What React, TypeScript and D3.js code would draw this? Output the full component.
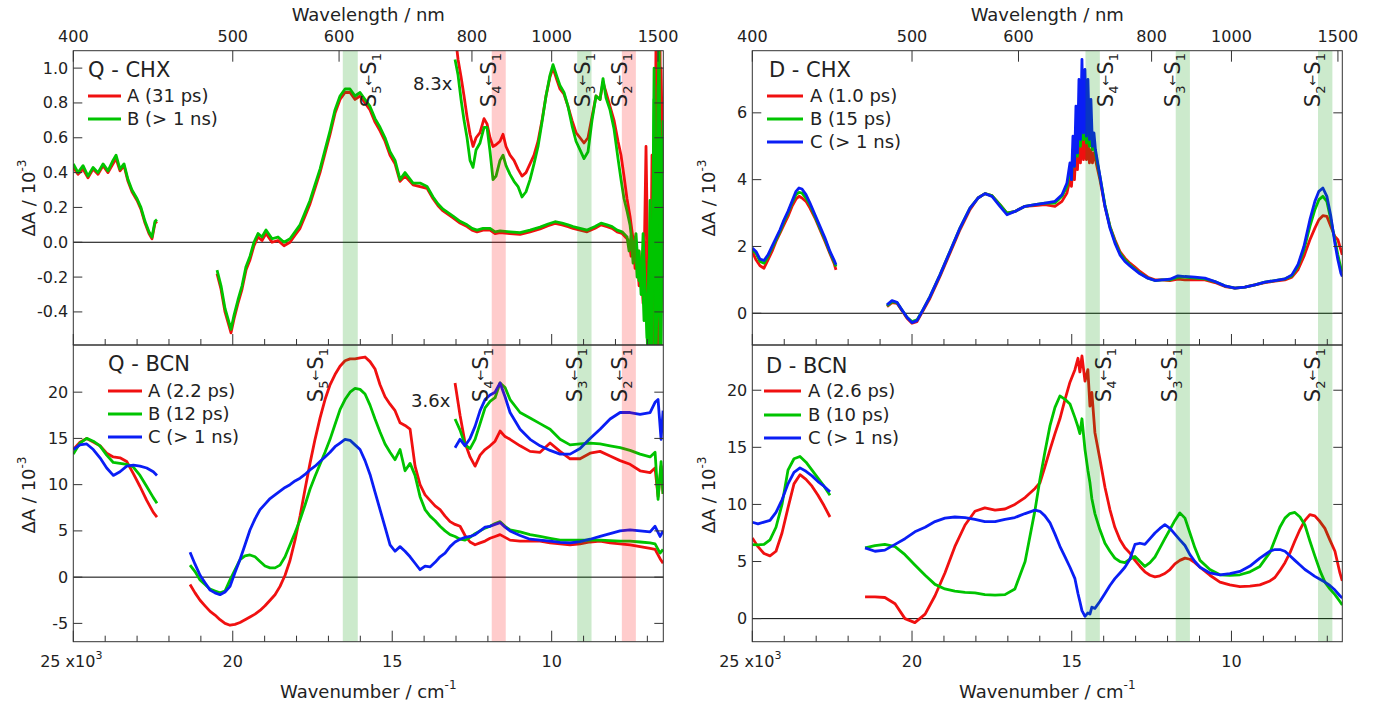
import React from "react";
import * as d3 from "d3";

const RED = "#f01010";
const GREEN = "#00c400";
const BLUE = "#0a1ef5";
const FONT = "'DejaVu Sans', Verdana, sans-serif";

// ---------- shared axis values ----------
const wavelengthTicksNm = [400, 500, 600, 800, 1000, 1500];
const wavenumberMajor = [25000, 20000, 15000, 10000];

// ---------- Q - CHX (ΔA / 10^-3) ----------
const qChxSeg1Wn = [25000, 24853, 24694, 24540, 24380, 24225, 24067, 23912, 23755, 23660, 23536, 23410, 23285, 23160, 23000, 22880, 22752, 22627, 22532, 22438, 22376];
const qChxSeg1A = [0.43, 0.39, 0.42, 0.37, 0.42, 0.39, 0.44, 0.40, 0.45, 0.48, 0.41, 0.44, 0.35, 0.29, 0.24, 0.19, 0.11, 0.05, 0.02, 0.11, 0.12];
const qChxSeg1B = [0.45, 0.40, 0.44, 0.38, 0.43, 0.40, 0.45, 0.41, 0.47, 0.50, 0.42, 0.45, 0.36, 0.30, 0.25, 0.20, 0.12, 0.06, 0.03, 0.12, 0.13];
const qChxSeg2Wn = [20493, 20368, 20243, 20117, 20055, 19961, 19835, 19710, 19585, 19459, 19334, 19208, 19083, 18957, 18769, 18581, 18393, 18205, 18048, 17891, 17734, 17578, 17421, 17264, 17107, 16950, 16794, 16637, 16480, 16323, 16166, 16009, 15852, 15696, 15539, 15382, 15225, 15068, 14911, 14755, 14598, 14347, 14127, 13908, 13719, 13563, 13406, 13249, 13092, 12873, 12653, 12497, 12340, 12152, 11932, 11775, 11618, 11305, 10991, 10678, 10364, 10113, 9894, 9674, 9486, 9329, 9110, 8890, 8640, 8451, 8263, 8106, 7949, 7793, 7636, 7573, 7510, 7448, 7385, 7322, 7260, 7197, 7134, 7071, 7009, 6946, 6883, 6820, 6789, 6758, 6695, 6664, 6601, 6570, 6507];
const qChxSeg2A = [-0.18, -0.27, -0.40, -0.48, -0.52, -0.44, -0.35, -0.27, -0.16, -0.10, -0.02, 0.03, 0.01, 0.05, 0.00, 0.01, -0.02, 0.00, 0.04, 0.08, 0.15, 0.22, 0.31, 0.40, 0.51, 0.62, 0.74, 0.82, 0.86, 0.86, 0.82, 0.84, 0.80, 0.76, 0.69, 0.64, 0.58, 0.50, 0.45, 0.35, 0.38, 0.33, 0.32, 0.31, 0.25, 0.21, 0.18, 0.16, 0.14, 0.11, 0.09, 0.07, 0.06, 0.07, 0.07, 0.05, 0.055, 0.05, 0.045, 0.06, 0.077, 0.095, 0.108, 0.10, 0.09, 0.08, 0.07, 0.06, 0.08, 0.10, 0.09, 0.08, 0.06, 0.05, 0.02, 0.0, -0.08, 0.02, -0.15, -0.05, -0.25, -0.1, -0.35, 0.0, -0.45, -0.2, -0.7, -0.3, 0.5, -0.7, 0.8, -0.7, 1.1, -0.4, 0.3];
const qChxSeg2B = [-0.16, -0.25, -0.38, -0.46, -0.50, -0.42, -0.33, -0.25, -0.14, -0.08, 0.00, 0.05, 0.03, 0.07, 0.02, 0.03, 0.00, 0.02, 0.06, 0.10, 0.17, 0.24, 0.33, 0.42, 0.53, 0.64, 0.76, 0.84, 0.88, 0.88, 0.84, 0.86, 0.82, 0.78, 0.71, 0.66, 0.60, 0.52, 0.47, 0.36, 0.40, 0.34, 0.34, 0.32, 0.26, 0.22, 0.19, 0.17, 0.15, 0.12, 0.10, 0.08, 0.07, 0.08, 0.08, 0.06, 0.065, 0.06, 0.055, 0.07, 0.087, 0.105, 0.118, 0.11, 0.10, 0.09, 0.08, 0.07, 0.09, 0.11, 0.10, 0.09, 0.07, 0.06, 0.03, -0.05, 0.04, -0.12, 0.0, -0.2, -0.05, -0.3, 0.05, -0.25, -0.55, -0.1, -0.7, 0.3, 1.0, -0.7, -0.4, 0.9, -0.7, 0.6, -0.2];
// the same spectra multiplied by 8.3
const qChxX83Wn = [13030, 12936, 12842, 12748, 12654, 12560, 12466, 12372, 12247, 12121, 12027, 11933, 11839, 11745, 11620, 11526, 11432, 11306, 11181, 11055, 10930, 10805, 10679, 10554, 10428, 10303, 10178, 10052, 9958, 9833, 9739, 9613, 9488, 9362, 9237, 9111, 8986, 8861, 8735, 8610, 8484, 8390, 8296, 8171, 8045, 7920, 7826, 7732, 7638, 7544, 7450, 7356, 7262, 7168, 7104, 7042, 6979, 6916, 6854, 6791, 6728, 6697, 6634, 6571, 6509];
const qChxX83A = [1.20, 1.05, 0.95, 0.84, 0.72, 0.62, 0.55, 0.60, 0.63, 0.71, 0.68, 0.60, 0.55, 0.56, 0.58, 0.62, 0.55, 0.50, 0.47, 0.42, 0.38, 0.40, 0.45, 0.50, 0.58, 0.70, 0.84, 0.95, 1.00, 0.93, 0.88, 0.85, 0.78, 0.70, 0.63, 0.60, 0.57, 0.60, 0.72, 0.84, 0.82, 0.92, 0.86, 0.78, 0.70, 0.58, 0.50, 0.38, 0.25, 0.15, 0.02, -0.10, -0.05, -0.30, -0.15, 0.55, -0.2, -0.7, 0.5, -0.7, 1.2, 0.8, -0.7, 1.0, 0.4];
const qChxX83B = [1.05, 0.96, 0.82, 0.70, 0.60, 0.47, 0.43, 0.53, 0.57, 0.66, 0.66, 0.52, 0.36, 0.38, 0.47, 0.50, 0.44, 0.39, 0.35, 0.32, 0.26, 0.29, 0.36, 0.45, 0.55, 0.69, 0.84, 0.96, 1.02, 0.95, 0.90, 0.86, 0.78, 0.67, 0.58, 0.53, 0.48, 0.52, 0.70, 0.84, 0.82, 0.94, 0.83, 0.76, 0.65, 0.48, 0.36, 0.25, 0.18, 0.10, -0.05, 0.05, -0.22, -0.10, -0.45, -0.33, -0.7, 0.24, -0.7, 0.82, -0.7, 0.36, 1.2, -0.7, 0.7];
const qChxLegend = ["A (31 ps)", "B (> 1 ns)"];

// ---------- Q - BCN ----------
const qBcnSeg1Wn = [25000, 24790, 24580, 24373, 24163, 23953, 23746, 23536, 23325, 23118, 22908, 22698, 22491, 22376];
const qBcnSeg1A = [13.8, 14.6, 15.0, 14.6, 14.2, 13.4, 13.0, 12.9, 12.5, 11.2, 9.8, 8.3, 7.0, 6.5];
const qBcnSeg1B = [13.3, 14.5, 15.0, 14.7, 14.2, 13.2, 12.4, 12.3, 12.2, 11.9, 11.0, 9.8, 8.6, 8.0];
const qBcnSeg1C = [13.8, 14.3, 14.4, 13.8, 12.9, 11.8, 11.0, 11.4, 12.0, 12.1, 12.0, 11.8, 11.4, 11.0];
const qBcnSeg2Wn = [21340, 21183, 21025, 20870, 20710, 20557, 20400, 20243, 20085, 19930, 19772, 19615, 19460, 19302, 19145, 18988, 18830, 18675, 18518, 18360, 18205, 18048, 17890, 17734, 17578, 17420, 17264, 17107, 16950, 16794, 16637, 16480, 16323, 16166, 16009, 15852, 15696, 15539, 15382, 15225, 15068, 14911, 14755, 14598, 14440, 14284, 14127, 13970, 13813, 13656, 13500, 13343, 13186, 13030, 12873, 12716, 12559, 12402, 12245, 12089, 11932, 11775, 11618, 11462, 11305, 10991, 10678, 10364, 10050, 9737, 9423, 9110, 8796, 8483, 8169, 7855, 7542, 7228, 6915, 6758, 6601, 6507];
const qBcnSeg2A = [-0.8, -1.7, -2.5, -3.1, -3.7, -4.1, -4.6, -5.0, -5.2, -5.1, -4.9, -4.6, -4.3, -4.0, -3.6, -3.1, -2.5, -1.9, -1.0, 0.2, 1.8, 4.0, 6.6, 9.5, 12.3, 14.9, 17.2, 19.2, 20.8, 21.9, 22.8, 23.4, 23.6, 23.6, 23.7, 23.8, 23.3, 22.5, 20.8, 19.5, 18.7, 18.0, 16.7, 16.4, 16.0, 12.0, 10.0, 8.9, 8.3, 7.7, 7.3, 6.6, 6.0, 5.7, 5.5, 4.5, 3.8, 3.5, 3.7, 3.9, 4.2, 4.4, 4.6, 4.3, 4.0, 3.9, 3.9, 3.9, 3.7, 3.6, 3.5, 3.6, 3.8, 3.9, 3.7, 3.6, 3.5, 3.3, 3.1, 3.0, 2.0, 1.5];
const qBcnSeg2B = [1.3, 0.6, -0.3, -0.8, -1.3, -1.5, -1.7, -1.5, -0.3, 0.8, 1.9, 2.3, 2.4, 2.2, 1.7, 1.2, 1.0, 1.0, 1.3, 2.2, 3.5, 4.8, 6.2, 7.8, 9.5, 10.9, 12.2, 13.5, 14.9, 16.5, 18.1, 19.2, 20.0, 20.4, 20.3, 19.8, 18.6, 17.1, 15.7, 14.4, 13.5, 12.7, 13.8, 11.5, 12.3, 11.0, 8.7, 7.3, 6.6, 6.1, 5.5, 5.0, 4.6, 4.4, 4.1, 4.0, 4.3, 4.7, 5.0, 5.3, 5.5, 5.8, 6.0, 5.5, 5.1, 4.9, 4.6, 4.4, 4.2, 4.0, 4.0, 4.0, 4.0, 4.0, 3.95, 3.9, 3.9, 3.8, 3.7, 3.6, 2.6, 3.0];
const qBcnSeg2C = [2.7, 1.4, 0.2, -0.6, -1.4, -1.7, -1.9, -1.6, -1.0, 0.5, 1.9, 3.5, 5.1, 6.3, 7.3, 7.9, 8.5, 8.9, 9.3, 9.7, 10.0, 10.4, 10.7, 11.1, 11.6, 12.0, 12.5, 13.0, 13.5, 14.1, 14.5, 14.9, 14.8, 14.3, 13.8, 12.6, 11.1, 9.2, 7.3, 5.4, 3.5, 2.8, 3.3, 2.8, 2.2, 1.5, 0.8, 1.2, 1.1, 1.6, 2.2, 2.6, 3.3, 3.8, 4.1, 4.3, 4.4, 4.6, 5.0, 5.4, 5.5, 5.7, 5.9, 5.4, 5.0, 4.5, 4.1, 4.0, 3.9, 3.75, 3.7, 3.85, 4.1, 4.4, 4.7, 5.0, 5.1, 5.0, 4.9, 5.5, 4.4, 5.0];
// the same spectra multiplied by 3.6
const qBcnX36Wn = [13030, 12873, 12716, 12559, 12402, 12245, 12089, 11932, 11775, 11618, 11462, 11305, 10991, 10678, 10364, 10050, 9737, 9423, 9110, 8796, 8483, 8169, 7855, 7542, 7228, 6915, 6758, 6664, 6570, 6507];
const qBcnX36A = [21.0, 17.5, 14.5, 13.0, 12.0, 13.2, 13.8, 14.2, 14.7, 15.8, 15.2, 14.9, 14.2, 13.6, 13.5, 14.5, 13.6, 12.8, 12.8, 13.4, 13.6, 13.1, 12.6, 12.2, 11.5, 11.3, 11.8, 8.7, 12.0, 9.0];
const qBcnX36B = [17.1, 15.9, 14.3, 13.9, 14.9, 16.6, 18.3, 19.0, 19.4, 21.0, 20.5, 19.2, 17.8, 17.2, 16.6, 16.0, 14.9, 14.3, 14.4, 14.5, 14.4, 14.2, 14.0, 13.7, 13.3, 13.0, 13.5, 8.4, 12.5, 9.0];
const qBcnX36C = [14.0, 14.9, 14.2, 15.0, 16.3, 18.0, 19.2, 19.7, 20.0, 21.0, 19.5, 17.8, 16.0, 14.9, 14.2, 13.7, 13.3, 13.3, 13.9, 15.0, 16.0, 17.1, 17.8, 17.8, 17.6, 17.8, 18.9, 19.2, 14.9, 18.0];
const qBcnLegend = ["A (2.2 ps)", "B (12 ps)", "C (> 1 ns)"];

// ---------- D - CHX ----------
const dChxSeg1Wn = [25000, 24884, 24759, 24634, 24509, 24383, 24258, 24133, 24008, 23883, 23757, 23632, 23538, 23444, 23319, 23194, 23037, 22881, 22724, 22568, 22443, 22380];
const dChxSeg1A = [1.85, 1.6, 1.42, 1.35, 1.6, 1.85, 2.15, 2.4, 2.65, 2.9, 3.2, 3.42, 3.5, 3.45, 3.35, 3.15, 2.85, 2.5, 2.15, 1.78, 1.5, 1.3];
const dChxSeg1B = [1.9, 1.8, 1.55, 1.5, 1.7, 1.95, 2.2, 2.45, 2.75, 3.0, 3.3, 3.55, 3.62, 3.6, 3.45, 3.25, 2.9, 2.55, 2.2, 1.82, 1.55, 1.4];
const dChxSeg1C = [1.95, 1.85, 1.62, 1.58, 1.75, 2.0, 2.25, 2.5, 2.8, 3.05, 3.35, 3.65, 3.75, 3.72, 3.55, 3.3, 2.95, 2.6, 2.25, 1.85, 1.6, 1.45];
const dChxSeg2Wn = [20784, 20627, 20471, 20314, 20158, 20001, 19845, 19688, 19438, 19125, 18812, 18499, 18186, 17935, 17716, 17497, 17247, 17028, 16777, 16464, 16151, 15838, 15525, 15306, 15150, 15056, 15009, 14962, 14915, 14868, 14821, 14774, 14727, 14680, 14633, 14586, 14540, 14493, 14446, 14399, 14352, 14305, 14258, 14117, 13961, 13804, 13648, 13491, 13335, 13178, 13022, 12865, 12615, 12396, 12177, 11926, 11676, 11457, 11144, 10831, 10518, 10205, 9892, 9579, 9266, 8953, 8640, 8327, 8108, 7920, 7732, 7544, 7388, 7263, 7138, 7013, 6888, 6763, 6669, 6575, 6530];
const dChxSeg2A = [0.20, 0.32, 0.30, 0.08, -0.15, -0.30, -0.25, 0.02, 0.45, 1.10, 1.80, 2.50, 3.10, 3.45, 3.58, 3.52, 3.25, 3.00, 3.05, 3.20, 3.22, 3.25, 3.20, 3.35, 3.60, 4.0, 3.8, 4.4, 4.0, 4.9, 4.3, 5.3, 4.5, 5.6, 4.6, 5.4, 4.6, 5.2, 4.5, 4.9, 4.5, 4.8, 4.6, 4.00, 3.20, 2.60, 2.20, 1.85, 1.65, 1.50, 1.38, 1.25, 1.08, 1.00, 1.00, 0.98, 1.02, 1.00, 1.00, 1.00, 0.92, 0.80, 0.75, 0.78, 0.85, 0.92, 0.96, 1.00, 1.08, 1.30, 1.70, 2.20, 2.55, 2.80, 2.92, 2.90, 2.60, 2.30, 2.20, 1.90, 1.75];
const dChxSeg2B = [0.22, 0.35, 0.32, 0.10, -0.12, -0.25, -0.20, 0.05, 0.50, 1.15, 1.85, 2.55, 3.15, 3.45, 3.58, 3.52, 3.25, 3.00, 3.05, 3.20, 3.25, 3.30, 3.30, 3.50, 3.80, 4.3, 4.0, 4.9, 4.4, 5.5, 4.7, 5.9, 5.0, 6.1, 5.2, 6.2, 5.1, 5.9, 5.0, 5.4, 4.9, 5.0, 4.8, 4.10, 3.25, 2.60, 2.15, 1.80, 1.60, 1.45, 1.32, 1.20, 1.05, 0.98, 1.00, 1.00, 1.08, 1.08, 1.05, 1.03, 0.95, 0.82, 0.75, 0.78, 0.85, 0.93, 0.98, 1.03, 1.12, 1.40, 1.90, 2.60, 3.10, 3.40, 3.50, 3.35, 2.80, 2.20, 1.75, 1.35, 1.25];
const dChxSeg2C = [0.25, 0.38, 0.33, 0.10, -0.12, -0.28, -0.22, 0.05, 0.50, 1.15, 1.85, 2.55, 3.15, 3.45, 3.58, 3.50, 3.20, 2.95, 3.05, 3.20, 3.25, 3.30, 3.35, 3.55, 3.90, 4.5, 4.0, 5.3, 4.4, 6.2, 4.8, 7.0, 5.2, 7.6, 5.4, 7.3, 5.3, 7.0, 5.2, 6.4, 5.0, 5.4, 4.9, 4.10, 3.20, 2.55, 2.10, 1.75, 1.55, 1.42, 1.30, 1.18, 1.05, 0.98, 1.00, 1.02, 1.12, 1.10, 1.08, 1.05, 0.95, 0.82, 0.75, 0.78, 0.85, 0.93, 0.98, 1.03, 1.15, 1.45, 2.00, 2.80, 3.35, 3.65, 3.75, 3.50, 2.90, 2.10, 1.60, 1.20, 1.10];
const dChxLegend = ["A (1.0 ps)", "B (15 ps)", "C (> 1 ns)"];

// ---------- D - BCN ----------
const dBcnSeg1Wn = [25000, 24822, 24634, 24446, 24258, 24070, 23883, 23695, 23507, 23319, 23131, 22944, 22756, 22568];
const dBcnSeg1A = [7.06, 6.3, 5.7, 5.5, 5.9, 7.5, 9.7, 11.8, 12.6, 12.2, 11.6, 10.8, 9.9, 8.9];
const dBcnSeg1B = [6.48, 6.45, 6.5, 6.9, 8.0, 10.0, 13.0, 14.0, 14.2, 13.7, 13.0, 12.3, 11.6, 10.8];
const dBcnSeg1C = [8.44, 8.3, 8.45, 8.6, 9.3, 10.4, 11.8, 12.8, 13.2, 12.9, 12.5, 12.0, 11.6, 11.1];
const dBcnSeg2Wn = [21470, 21160, 20850, 20530, 20220, 19910, 19590, 19280, 18970, 18660, 18340, 18030, 17720, 17400, 17090, 16780, 16460, 16150, 15995, 15840, 15680, 15525, 15370, 15210, 15055, 14900, 14805, 14745, 14680, 14585, 14495, 14430, 14370, 14275, 14120, 13960, 13805, 13650, 13490, 13335, 13180, 13020, 12865, 12710, 12550, 12395, 12240, 12085, 11925, 11770, 11615, 11455, 11300, 11145, 10985, 10675, 10360, 10050, 9735, 9420, 9110, 8795, 8640, 8485, 8325, 8170, 8015, 7855, 7700, 7545, 7390, 7230, 7075, 6920, 6760, 6605, 6530];
const dBcnSeg2A = [1.9, 1.9, 1.85, 1.3, 0.0, -0.35, 0.4, 2.0, 4.0, 6.3, 8.2, 9.4, 9.7, 9.5, 9.6, 10.0, 10.6, 11.4, 11.9, 13.3, 14.8, 16.2, 17.5, 19.2, 20.7, 21.8, 22.8, 21.6, 23.0, 20.8, 21.8, 18.6, 19.8, 16.3, 14.0, 11.5, 9.55, 8.0, 6.9, 6.2, 5.75, 5.1, 4.57, 4.1, 3.8, 3.65, 3.75, 3.95, 4.3, 4.8, 5.1, 5.3, 5.2, 4.9, 4.5, 3.8, 3.2, 2.95, 2.8, 2.85, 2.96, 3.3, 3.6, 4.2, 4.9, 5.75, 6.8, 7.8, 8.6, 9.1, 9.0, 8.5, 7.9, 6.9, 5.9, 4.0, 3.3];
const dBcnSeg2B = [6.2, 6.4, 6.5, 6.3, 5.6, 4.7, 3.8, 3.0, 2.6, 2.4, 2.3, 2.25, 2.1, 2.05, 2.1, 2.6, 5.0, 9.5, 12.2, 14.6, 16.9, 18.5, 19.5, 19.2, 18.8, 17.6, 16.8, 16.2, 17.5, 14.8, 13.0, 11.9, 10.5, 9.2, 7.8, 6.6, 5.9, 5.3, 5.0, 4.9, 5.2, 5.45, 5.0, 4.57, 4.9, 5.4, 6.2, 7.0, 7.8, 8.6, 9.26, 8.8, 7.5, 6.2, 5.1, 4.3, 3.84, 3.8, 3.84, 4.1, 4.57, 5.8, 6.9, 8.0, 8.8, 9.2, 9.3, 8.9, 8.2, 6.8, 5.5, 4.2, 3.2, 2.6, 2.1, 1.5, 1.2];
const dBcnSeg2C = [6.2, 5.9, 6.0, 6.5, 7.0, 7.6, 8.0, 8.5, 8.8, 8.9, 8.85, 8.7, 8.5, 8.5, 8.7, 8.85, 9.2, 9.5, 9.4, 9.0, 8.38, 7.4, 6.33, 5.4, 4.5, 3.5, 2.2, 1.5, 0.7, 0.2, 0.5, 0.4, 1.0, 0.9, 1.5, 2.2, 2.9, 3.5, 4.0, 4.5, 5.2, 6.5, 6.6, 6.5, 7.0, 7.5, 7.9, 8.23, 7.9, 7.4, 6.9, 6.4, 5.6, 5.0, 4.5, 4.0, 3.84, 3.95, 4.13, 4.6, 5.3, 5.9, 6.05, 6.05, 5.9, 5.5, 5.1, 4.7, 4.3, 4.0, 3.7, 3.45, 3.2, 2.9, 2.5, 2.0, 1.8];
const dBcnLegend = ["A (2.6 ps)", "B (10 ps)", "C (> 1 ns)"];

// transition bands (cm-1) and their labels
const qBands = [
  { from: 16080, to: 16550, kind: "g", n: "5" },
  { from: 11440, to: 11880, kind: "r", n: "4" },
  { from: 8750, to: 9200, kind: "g", n: "3" },
  { from: 7360, to: 7800, kind: "r", n: "2" },
];
const dBands = [
  { from: 14120, to: 14570, kind: "g", n: "4" },
  { from: 11300, to: 11745, kind: "g", n: "3" },
  { from: 6840, to: 7290, kind: "g", n: "2" },
];
const qChxLabelWn = [15664, 11901, 8953, 7793];
const qBcnLabelWn = [17326, 12152, 9204, 7793];
const dChxLabelWn = [13866, 11769, 7388];
const dBcnLabelWn = [13929, 11863, 7388];

type Curve = { wn: number[]; v: number[]; color: string };
type PanelDef = {
  key: string;
  x0: number; x1: number; y0: number; y1: number;
  xDomain: [number, number];
  yDomain: [number, number];
  yTicks: number[];
  yFmt: (v: number) => string;
  curves: Curve[];
  bands: { from: number; to: number; kind: string; n: string }[];
  labelWn: number[];
  labelTop: number;
  top: boolean;
  title: string;
  titleX: number; titleY: number;
  lineX0: number; lineX1: number; textX: number; lineY: number[];
  entries: string[];
  colors: string[];
  note?: { text: string; x: number; y: number };
  yTitleX: number; yTitleY: number;
};

const fmt1 = (v: number) => v.toFixed(1);
const fmt0 = (v: number) => String(v);

const panels: PanelDef[] = [
  {
    key: "qchx", x0: 73.3, x1: 663.3, y0: 50.7, y1: 345,
    xDomain: [25000, 6500], yDomain: [-0.59, 1.10],
    yTicks: [-0.4, -0.2, 0, 0.2, 0.4, 0.6, 0.8, 1.0], yFmt: fmt1,
    curves: [
      { wn: qChxSeg1Wn, v: qChxSeg1A, color: RED },
      { wn: qChxSeg2Wn, v: qChxSeg2A, color: RED },
      { wn: qChxX83Wn, v: qChxX83A, color: RED },
      { wn: qChxSeg1Wn, v: qChxSeg1B, color: GREEN },
      { wn: qChxSeg2Wn, v: qChxSeg2B, color: GREEN },
      { wn: qChxX83Wn, v: qChxX83B, color: GREEN },
    ],
    bands: qBands, labelWn: qChxLabelWn, labelTop: 53, top: true,
    title: "Q - CHX", titleX: 88, titleY: 77,
    lineX0: 88, lineX1: 121, textX: 127, lineY: [96, 119],
    entries: qChxLegend, colors: [RED, GREEN],
    note: { text: "8.3x", x: 413, y: 90 },
    yTitleX: 35, yTitleY: 198,
  },
  {
    key: "qbcn", x0: 73.3, x1: 663.3, y0: 345, y1: 641.7,
    xDomain: [25000, 6500], yDomain: [-6.98, 25.1],
    yTicks: [-5, 0, 5, 10, 15, 20], yFmt: fmt0,
    curves: [
      { wn: qBcnSeg1Wn, v: qBcnSeg1A, color: RED },
      { wn: qBcnSeg2Wn, v: qBcnSeg2A, color: RED },
      { wn: qBcnX36Wn, v: qBcnX36A, color: RED },
      { wn: qBcnSeg1Wn, v: qBcnSeg1B, color: GREEN },
      { wn: qBcnSeg2Wn, v: qBcnSeg2B, color: GREEN },
      { wn: qBcnX36Wn, v: qBcnX36B, color: GREEN },
      { wn: qBcnSeg1Wn, v: qBcnSeg1C, color: BLUE },
      { wn: qBcnSeg2Wn, v: qBcnSeg2C, color: BLUE },
      { wn: qBcnX36Wn, v: qBcnX36C, color: BLUE },
    ],
    bands: qBands, labelWn: qBcnLabelWn, labelTop: 348, top: false,
    title: "Q - BCN", titleX: 108, titleY: 371,
    lineX0: 108, lineX1: 142, textX: 148, lineY: [391, 414, 437],
    entries: qBcnLegend, colors: [RED, GREEN, BLUE],
    note: { text: "3.6x", x: 411, y: 407 },
    yTitleX: 35, yTitleY: 495,
  },
  {
    key: "dchx", x0: 752.3, x1: 1342.3, y0: 50.7, y1: 345,
    xDomain: [25000, 6530], yDomain: [-0.95, 7.86],
    yTicks: [0, 2, 4, 6], yFmt: fmt0,
    curves: [
      { wn: dChxSeg1Wn, v: dChxSeg1A, color: RED },
      { wn: dChxSeg2Wn, v: dChxSeg2A, color: RED },
      { wn: dChxSeg1Wn, v: dChxSeg1B, color: GREEN },
      { wn: dChxSeg2Wn, v: dChxSeg2B, color: GREEN },
      { wn: dChxSeg1Wn, v: dChxSeg1C, color: BLUE },
      { wn: dChxSeg2Wn, v: dChxSeg2C, color: BLUE },
    ],
    bands: dBands, labelWn: dChxLabelWn, labelTop: 53, top: true,
    title: "D - CHX", titleX: 769, titleY: 77,
    lineX0: 767, lineX1: 803, textX: 810, lineY: [96, 119, 142],
    entries: dChxLegend, colors: [RED, GREEN, BLUE],
    yTitleX: 715, yTitleY: 198,
  },
  {
    key: "dbcn", x0: 752.3, x1: 1342.3, y0: 345, y1: 641.7,
    xDomain: [25000, 6530], yDomain: [-2.02, 23.96],
    yTicks: [0, 5, 10, 15, 20], yFmt: fmt0,
    curves: [
      { wn: dBcnSeg1Wn, v: dBcnSeg1A, color: RED },
      { wn: dBcnSeg2Wn, v: dBcnSeg2A, color: RED },
      { wn: dBcnSeg1Wn, v: dBcnSeg1B, color: GREEN },
      { wn: dBcnSeg2Wn, v: dBcnSeg2B, color: GREEN },
      { wn: dBcnSeg1Wn, v: dBcnSeg1C, color: BLUE },
      { wn: dBcnSeg2Wn, v: dBcnSeg2C, color: BLUE },
    ],
    bands: dBands, labelWn: dBcnLabelWn, labelTop: 348, top: false,
    title: "D - BCN", titleX: 766, titleY: 373,
    lineX0: 764, lineX1: 801, textX: 808, lineY: [391, 415, 438],
    entries: dBcnLegend, colors: [RED, GREEN, BLUE],
    yTitleX: 715, yTitleY: 495,
  },
];

function Panel({ p }: { p: PanelDef }) {
  const xs = d3.scaleLinear().domain(p.xDomain).range([p.x0, p.x1]);
  const ys = d3.scaleLinear().domain(p.yDomain).range([p.y1, p.y0]);
  const line = d3.line<[number, number]>().x((d) => xs(d[0])).y((d) => ys(d[1]));
  const clipId = `clip-${p.key}`;
  const minor = d3.range(7000, 25001, 1000);
  const axisColor = "#333";
  return (
    <g>
      <defs>
        <clipPath id={clipId}>
          <rect x={p.x0} y={p.y0} width={p.x1 - p.x0} height={p.y1 - p.y0} />
        </clipPath>
      </defs>
      <line x1={p.x0} x2={p.x1} y1={ys(0)} y2={ys(0)} stroke="#000" strokeWidth={1} />
      <g clipPath={`url(#${clipId})`}>
        {p.curves.map((c, i) => (
          <path
            key={i}
            d={line(c.wn.map((w, j) => [w, c.v[j]] as [number, number])) || ""}
            fill="none"
            stroke={c.color}
            strokeWidth={2.8}
            strokeLinejoin="round"
          />
        ))}
        {p.bands.map((b, i) => {
          const a = xs(b.from);
          const z = xs(b.to);
          return (
            <rect
              key={i}
              x={Math.min(a, z)}
              width={Math.abs(z - a)}
              y={p.y0}
              height={p.y1 - p.y0}
              fill={b.kind === "g" ? "rgba(0,150,0,0.2)" : "rgba(255,0,0,0.2)"}
            />
          );
        })}
      </g>
      {p.bands.map((b, i) => (
        <text
          key={i}
          transform={`translate(${xs(p.labelWn[i]) + 5},${p.labelTop}) rotate(-90)`}
          textAnchor="end"
          fontSize={21}
          fill="#222"
        >
          <tspan>S</tspan>
          <tspan fontSize={13} dy={5}>{b.n}</tspan>
          <tspan fontSize={13} dy={-8}>←</tspan>
          <tspan dy={3}>S</tspan>
          <tspan fontSize={13} dy={5}>1</tspan>
        </text>
      ))}
      {p.note && (
        <text x={p.note.x} y={p.note.y} fontSize={18} fill="#222">{p.note.text}</text>
      )}
      {/* legend */}
      <text x={p.titleX} y={p.titleY} fontSize={21} fill="#222">{p.title}</text>
      {p.entries.map((e, i) => (
        <g key={i}>
          <line x1={p.lineX0} x2={p.lineX1} y1={p.lineY[i]} y2={p.lineY[i]} stroke={p.colors[i]} strokeWidth={3} />
          <text x={p.textX} y={p.lineY[i] + 6} fontSize={18} fill="#222">{e}</text>
        </g>
      ))}
      {/* y ticks both sides */}
      {p.yTicks.map((t) => (
        <g key={t}>
          <line x1={p.x0} x2={p.x0 + 9} y1={ys(t)} y2={ys(t)} stroke={axisColor} />
          <line x1={p.x1} x2={p.x1 - 9} y1={ys(t)} y2={ys(t)} stroke={axisColor} />
          <text x={p.x0 - 5} y={ys(t) + 5.5} fontSize={16} textAnchor="end" fill="#222">{p.yFmt(t)}</text>
        </g>
      ))}
      {/* bottom x ticks */}
      {minor.map((w) => {
        const major = wavenumberMajor.includes(w);
        return (
          <line key={w} x1={xs(w)} x2={xs(w)} y1={p.y1} y2={p.y1 - (major ? 11 : 6)} stroke={axisColor} />
        );
      })}
      {!p.top &&
        wavenumberMajor.map((w) =>
          w === 25000 ? (
            <text key={w} x={xs(w) - 2} y={667} fontSize={16} textAnchor="middle" fill="#222">
              25 x10<tspan fontSize={11} dy={-8}>3</tspan>
            </text>
          ) : (
            <text key={w} x={xs(w)} y={667} fontSize={16} textAnchor="middle" fill="#222">{w / 1000}</text>
          )
        )}
      {!p.top && (
        <text x={(p.x0 + p.x1) / 2} y={698} fontSize={18} textAnchor="middle" fill="#222">
          Wavenumber / cm<tspan fontSize={12} dy={-9}>-1</tspan>
        </text>
      )}
      {p.top &&
        wavelengthTicksNm.map((nm) => (
          <g key={nm}>
            <line x1={xs(1e7 / nm)} x2={xs(1e7 / nm)} y1={p.y0} y2={p.y0 + 11} stroke={axisColor} />
            <text x={xs(1e7 / nm)} y={42} fontSize={16} textAnchor="middle" fill="#222">{nm}</text>
          </g>
        ))}
      {p.top && (
        <text x={(p.x0 + p.x1) / 2} y={21} fontSize={18} textAnchor="middle" fill="#222">Wavelength / nm</text>
      )}
      {/* y title */}
      <text
        transform={`translate(${p.yTitleX},${p.yTitleY}) rotate(-90)`}
        textAnchor="middle"
        fontSize={18}
        fill="#222"
      >
        ΔA / 10<tspan fontSize={12} dy={-9}>-3</tspan>
      </text>
      <rect x={p.x0} y={p.y0} width={p.x1 - p.x0} height={p.y1 - p.y0} fill="none" stroke={axisColor} strokeWidth={1} />
    </g>
  );
}

export default function App() {
  return (
    <svg
      width={1374}
      height={706}
      style={{ position: "fixed", left: 0, top: 0, background: "#fff", fontFamily: FONT }}
    >
      <rect x={0} y={0} width={1374} height={706} fill="#fff" />
      {panels.map((p) => (
        <Panel key={p.key} p={p} />
      ))}
    </svg>
  );
}
